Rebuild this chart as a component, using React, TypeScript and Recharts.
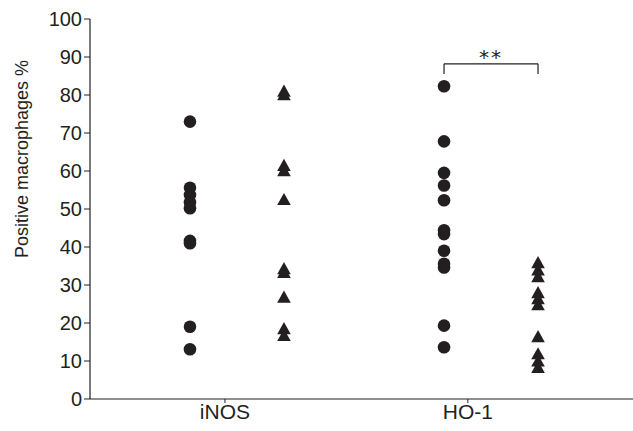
import React from 'react';
import { ScatterChart, Scatter, XAxis, YAxis, ReferenceLine, Label } from 'recharts';

// Positive macrophage % per case
const inosCircles = [73, 55.6, 53.7, 51.8, 50.2, 41.6, 41, 19, 13.1];
const inosTriangles = [80.9, 80, 61.4, 60, 52.4, 34.2, 33.2, 26.7, 18.4, 16.6];
const ho1Circles = [82.3, 67.8, 59.5, 56.2, 52.3, 44.4, 43.4, 39, 35.6, 34.6, 19.3, 13.6];
const ho1Triangles = [35.8, 33.9, 32.1, 27.9, 26.3, 24.7, 16.3, 11.8, 9.9, 8.2];

const categories = ['iNOS', 'HO-1'];
const categoryTicks = [1, 2];
const yTicks = [0, 10, 20, 30, 40, 50, 60, 70, 80, 90, 100];

// horizontal placement of each column on the x scale (category ticks at 1 and 2)
const columnX = { inosCircle: 0.856, inosTriangle: 1.243, ho1Circle: 1.902, ho1Triangle: 2.289 };
const bracket = { top: 88.2, foot: 85.5, text: '**' };

const INK = '#231f20';
const FONT = '"Liberation Sans", Arial, Helvetica, sans-serif';
const NARROW = '"Liberation Sans Narrow", "Liberation Sans", Arial, sans-serif';

const toPoints = (vals: number[], x: number) => vals.map(v => ({ x, y: v }));

const CircleMark = (props: any) => <circle cx={props.cx} cy={props.cy} r={6.3} fill={INK} />;
const TriangleMark = (props: any) => {
  const { cx, cy } = props;
  return <polygon points={`${cx},${cy - 7} ${cx - 6.8},${cy + 5.2} ${cx + 6.8},${cy + 5.2}`} fill={INK} />;
};

export default function App() {
  return (
    <div style={{ position: 'absolute', left: 0, top: 0, background: '#fff' }}>
      <ScatterChart width={633} height={431} margin={{ top: 19, right: 0, bottom: 0, left: 0 }}>
        <XAxis
          type="number"
          dataKey="x"
          domain={[0.4444, 2.68]}
          ticks={categoryTicks}
          tickFormatter={(v: number) => categories[categoryTicks.indexOf(v)] ?? ''}
          height={32}
          tickSize={4}
          tickMargin={1}
          axisLine={{ stroke: INK, strokeWidth: 1.2 }}
          tickLine={{ stroke: INK }}
          tick={{ fill: INK, fontSize: 21, fontFamily: NARROW }}
          allowDataOverflow
        />
        <YAxis
          type="number"
          dataKey="y"
          domain={[0, 100]}
          ticks={yTicks}
          width={90}
          tickSize={6}
          tickMargin={2}
          interval={0}
          axisLine={{ stroke: INK, strokeWidth: 1.2 }}
          tickLine={{ stroke: INK }}
          tick={{ fill: INK, fontSize: 20, fontFamily: NARROW }}
        >
          <Label
            content={(p: any) => {
              const cx = 22;
              const cy = (p.viewBox?.y ?? 19) + 140;
              return (
                <text
                  x={cx}
                  y={cy}
                  transform={`rotate(-90 ${cx} ${cy})`}
                  textAnchor="middle"
                  dominantBaseline="central"
                  fill={INK}
                  fontSize={18}
                  fontFamily={FONT}
                >
                  Positive macrophages %
                </text>
              );
            }}
          />
        </YAxis>
        <Scatter data={toPoints(inosCircles, columnX.inosCircle)} shape={CircleMark} isAnimationActive={false} />
        <Scatter data={toPoints(inosTriangles, columnX.inosTriangle)} shape={TriangleMark} isAnimationActive={false} />
        <Scatter data={toPoints(ho1Circles, columnX.ho1Circle)} shape={CircleMark} isAnimationActive={false} />
        <Scatter data={toPoints(ho1Triangles, columnX.ho1Triangle)} shape={TriangleMark} isAnimationActive={false} />
        <ReferenceLine
          segment={[{ x: columnX.ho1Circle, y: bracket.top }, { x: columnX.ho1Triangle, y: bracket.top }]}
          stroke={INK}
          strokeWidth={1.2}
          label={{ value: bracket.text, position: 'top', offset: 0, fill: INK, fontSize: 20, fontFamily: '"DejaVu Sans", sans-serif', letterSpacing: 2 }}
        />
        <ReferenceLine segment={[{ x: columnX.ho1Circle, y: bracket.top }, { x: columnX.ho1Circle, y: bracket.foot }]} stroke={INK} strokeWidth={1.2} />
        <ReferenceLine segment={[{ x: columnX.ho1Triangle, y: bracket.top }, { x: columnX.ho1Triangle, y: bracket.foot }]} stroke={INK} strokeWidth={1.2} />
      </ScatterChart>
    </div>
  );
}
